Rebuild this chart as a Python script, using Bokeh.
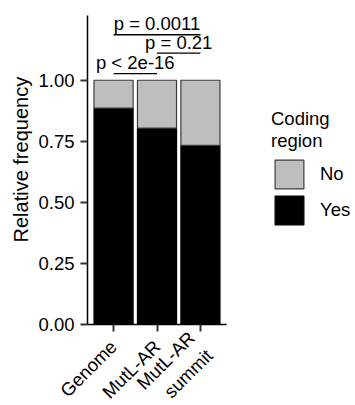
import math
from bokeh.plotting import figure
from bokeh.models import (Range1d, FixedTicker, Legend, LegendItem, Title,
                          ColumnDataSource)
from bokeh.core.properties import value
from bokeh.embed import file_html
from bokeh.resources import INLINE

# ---- data ----
categories = ["Genome", "MutL-AR", "MutL-AR\nsummit"]
coding_yes = [0.886, 0.804, 0.733]
coding_no = [0.114, 0.196, 0.267]
y_ticks = [0.0, 0.25, 0.5, 0.75, 1.0]
y_tick_labels = ["0.00", "0.25", "0.50", "0.75", "1.00"]

sig_start = ["Genome", "MutL-AR", "Genome"]
sig_end = ["MutL-AR\nsummit", "MutL-AR\nsummit", "MutL-AR"]
sig_y = [1.186, 1.111, 1.027]
sig_label = ["p = 0.0011", "p = 0.21", "p < 2e-16"]

FONT = "Liberation Sans"

xpos = [i + 1 for i in range(len(categories))]
pos = dict(zip(categories, xpos))

p = figure(frame_width=139, frame_height=309,
           x_range=Range1d(0.4, 3.6), y_range=Range1d(0, 1.265),
           output_backend="svg", toolbar_location=None,
           min_border_left=87, min_border_right=129,
           min_border_top=15, min_border_bottom=81)
p.outline_line_color = None
p.grid.visible = False
p.background_fill_color = "white"
p.border_fill_color = "white"

src = ColumnDataSource(dict(x=xpos, Yes=coding_yes, No=coding_no))
r_yes, r_no = p.vbar_stack(["Yes", "No"], x="x", width=0.9, source=src,
                           fill_color=["black", "#BEBEBE"],
                           line_color=["black", "#3d3d3d"], line_width=1.2)

# significance brackets
sx0 = [pos[s] for s in sig_start]
sx1 = [pos[e] for e in sig_end]
smid = [(a + b) / 2 for a, b in zip(sx0, sx1)]
p.segment(x0=sx0, x1=sx1, y0=sig_y, y1=sig_y, line_color="black", line_width=1.4)
p.text(x=smid, y=sig_y, text=sig_label, text_align="center",
       text_baseline="alphabetic", y_offset=-11,
       text_font=value(FONT), text_font_size="18.5px", text_color="black")

# axes
for ax in (p.xaxis[0], p.yaxis[0]):
    ax.axis_line_color = "black"
    ax.axis_line_width = 1.5
    ax.major_tick_line_color = "#333333"
    ax.major_tick_line_width = 2
    ax.major_tick_out = 7
    ax.major_tick_in = 0
    ax.minor_tick_line_color = None
    ax.major_label_text_font = FONT
    ax.major_label_text_font_size = "18.5px"
    ax.major_label_text_color = "black"
    ax.major_label_standoff = 6

p.yaxis.ticker = FixedTicker(ticks=y_ticks)
p.yaxis.major_label_overrides = {t: l for t, l in zip(y_ticks, y_tick_labels)}

p.xaxis.ticker = FixedTicker(ticks=xpos)
p.xaxis.major_label_overrides = {x: c for x, c in zip(xpos, categories)}
p.xaxis.major_label_orientation = math.pi / 4
p.xaxis.major_label_standoff = 12

# y axis title (as a side title so it can sit where the reference puts it)
p.add_layout(Title(text="Relative frequency", align="left", offset=82,
                   vertical_align="bottom", standoff=8,
                   text_font=FONT, text_font_size="20px",
                   text_font_style="normal", text_color="black"), "left")

# legend in the right panel
legend = Legend(items=[LegendItem(label="No", renderers=[r_no]),
                       LegendItem(label="Yes", renderers=[r_yes])],
                location=(45, 96), orientation="vertical",
                title="Coding\nregion", title_standoff=4,
                title_text_font=FONT, title_text_font_size="18.5px",
                title_text_font_style="normal", title_text_color="black",
                glyph_width=36, glyph_height=36, spacing=-7,
                padding=0, margin=0, label_standoff=13,
                label_text_font=FONT, label_text_font_size="18.5px",
                label_text_color="black",
                border_line_color=None, background_fill_alpha=0)
p.add_layout(legend, "right")

open("out.html", "w").write(file_html(p, INLINE))
